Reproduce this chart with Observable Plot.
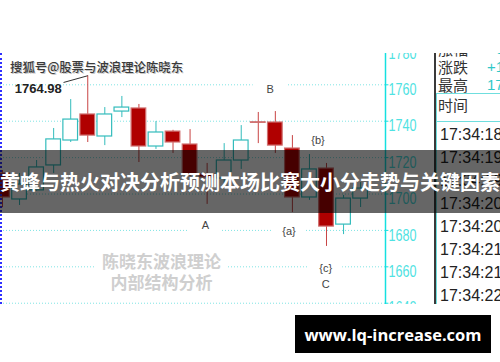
<!DOCTYPE html>
<html>
<head>
<meta charset="utf-8">
<script src="https://cdn.jsdelivr.net/npm/d3@7"></script>
<script src="https://cdn.jsdelivr.net/npm/@observablehq/plot@0.6"></script>
<style>
  html, body { margin: 0; padding: 0; background: #fff; }
  #stage { position: relative; width: 500px; height: 362px; overflow: hidden; background: #fff;
           font-family: "Noto Sans CJK SC", "Liberation Sans", sans-serif; }
  #chart { position: absolute; left: 0; top: 53px; width: 435px; height: 251px; overflow: hidden; }
  #chart svg { display: block; overflow: hidden; }
  #edge { position: absolute; left: 0; top: 53px; height: 251px; border-left: 2px dotted #2f2fff; }
  #source { position: absolute; left: 10px; top: 58px; font-size: 12.4px; line-height: 18px; color: #3a3a3a;
            font-weight: 500; white-space: nowrap; text-shadow: 1px 1px 0 #c8c8c8; }
  #mark { position: absolute; left: 95px; top: 248px; width: 133px; padding: 2px 0; background: #fff;
          text-align: center; color: #cfcfcf; font-weight: bold; font-size: 17px; line-height: 21px; }
  #panel { position: absolute; left: 434px; top: 53px; width: 66px; height: 251px; overflow: hidden; background: #fff;
           border-left: 2px solid #3a3a3a; }
  #panel .row { position: absolute; left: 2px; font-size: 15px; line-height: 18px; color: #333; white-space: nowrap; }
  #panel .val { position: absolute; left: 51px; font-size: 15px; line-height: 18px; color: #2ec8c8; white-space: nowrap;
                font-family: "Liberation Sans", sans-serif; }
  #panel .rule { position: absolute; left: 0; width: 66px; height: 0; border-top: 1.5px solid #6fdede; }
  #panel .time { position: absolute; left: 4px; font-size: 16px; line-height: 20px; color: #222; white-space: nowrap;
                 font-family: "Liberation Sans", sans-serif; }
  #panel .side { position: absolute; left: 0; top: 40px; bottom: 0; border-left: 1px solid #6fdede; }
  #banner { position: absolute; left: 0; top: 150px; width: 500px; height: 63px; background: rgba(0,0,0,0.6);
            display: flex; justify-content: center; align-items: center; overflow: hidden; }
  #banner span { color: #fff; font-weight: bold; font-size: 20px; white-space: nowrap; flex: none; }
  #site { position: absolute; left: 295px; top: 315px; width: 196px; height: 38px; background: #000;
          display: flex; justify-content: center; align-items: center; }
  #site span { color: #fff; font-weight: bold; font-size: 16.5px; font-family: "Open Sans", "DejaVu Sans", sans-serif; }
</style>
</head>
<body>
<div id="stage">
  <div id="chart"></div>
  <div id="edge"></div>
  <div id="mark"></div>
  <div id="source"></div>
  <div id="panel"></div>
  <div id="banner"><span></span></div>
  <div id="site"><span></span></div>
</div>
<script>
// One candle per trade tick, left to right
const opens  = [1711.3, 1697.0, 1702.0, 1715.7, 1729.4, 1743.7, 1731.6, 1745.3, 1747.0, 1726.1, 1734.3,
                1727.2, 1710.7, 1708.5, 1718.4, 1739.4, 1739.3, 1725.0, 1698.1, 1714.0, 1683.2, 1697.5];
const closes = [1698.1, 1705.2, 1714.6, 1730.0, 1740.9, 1732.1, 1743.7, 1747.5, 1726.1, 1733.8, 1728.3,
                1710.7, 1709.1, 1718.4, 1729.4, 1739.1, 1726.6, 1698.1, 1713.5, 1682.1, 1697.5, 1703.0];
const highs  = [1712.9, 1711.3, 1718.4, 1736.0, 1751.9, 1764.98, 1747.5, 1753.6, 1749.2, 1739.8, 1735.0,
                1735.4, 1716.8, 1727.7, 1737.6, 1744.8, 1745.3, 1732.1, 1721.7, 1716.8, 1699.2, 1706.3];
const lows   = [1692.5, 1693.7, 1701.5, 1711.3, 1728.3, 1728.3, 1726.6, 1742.0, 1717.3, 1724.5, 1722.3,
                1709.5, 1694.3, 1706.0, 1713.5, 1727.7, 1722.3, 1689.8, 1696.5, 1671.2, 1677.7, 1692.6];

// Price axis ticks
const yTicks = [1640, 1660, 1680, 1700, 1720, 1740, 1760, 1780];

// Wave count annotations (candle position, price)
const waveNames = ["B", "{b}", "A", "{a}", "{c}", "C"];
const waveX     = [15.7, 18.5, 11.9, 16.8, 18.95, 18.95];
const waveY     = [1757.4, 1729.3, 1682.7, 1679.4, 1659.1, 1650.3];

// Quote panel
const quoteNames  = ["涨幅", "涨跌", "最高"];
const quoteValues = ["+0.78%", "+13.62", "1764.98"];
const tickTimes   = ["17:34:18", "17:34:19", "17:34:19", "17:34:20", "17:34:20", "17:34:21", "17:34:21", "17:34:22"];

// Captions
const sourceText = "搜狐号@股票与波浪理论陈晓东";
const markLines  = ["陈晓东波浪理论", "内部结构分析"];
const titleText  = "黄蜂与热火对决分析预测本场比赛大小分走势与关键因素";
const siteText   = "www.lq-increase.com";

const candles = opens.map((o, i) => ({
  i, open: o, close: closes[i], high: highs[i], low: lows[i], up: closes[i] >= o
}));
const waves = waveNames.map((name, k) => ({ name, x: waveX[k], y: waveY[k] }));
const peak = candles.reduce((a, b) => (b.high > a.high ? b : a));

const xMin = -0.117, xMax = 22.46;
const TEAL = "#33bcbc", RED = "#b00000", RED_WICK = "#c84444", RED_EDGE = "#d07070", CYAN = "#14e0e0";

const chart = Plot.plot({
  width: 435, height: 251,
  marginTop: 0, marginBottom: 0, marginLeft: 0, marginRight: 50,
  x: { type: "linear", domain: [xMin, xMax], axis: null },
  y: { type: "linear", domain: [1639.3, 1777.2], axis: null },
  color: { type: "identity" },
  style: { background: "transparent", overflow: "hidden" },
  marks: [
    // dotted price grid
    Plot.ruleY(yTicks, { stroke: "#7fe4e4", strokeDasharray: "1,2", strokeWidth: 1 }),
    // white boxes under the wave labels
    Plot.rect(waves, { x1: d => d.x - 1.0, x2: d => d.x + 1.0, y1: d => d.y - 5.5, y2: d => d.y + 5.5, fill: "white" }),
    // wicks
    Plot.ruleX(candles, { x: "i", y1: "low", y2: "high", stroke: d => (d.up ? TEAL : RED_WICK), strokeWidth: 1 }),
    // bodies: hollow when rising, filled when falling
    Plot.rect(candles, {
      x1: d => d.i - 0.43, x2: d => d.i + 0.43, y1: "open", y2: "close",
      fill: d => (d.up ? "white" : RED), stroke: d => (d.up ? TEAL : RED_EDGE), strokeWidth: 1.2
    }),
    // wave labels
    Plot.text(waves, { x: "x", y: "y", text: "name", fontSize: 11, fill: "#444", fontFamily: "Liberation Sans, sans-serif" }),
    // session high callout
    Plot.link([peak], { x1: "i", y1: "high", x2: d => d.i - 1.42, y2: d => d.high - 3.7, stroke: "#333", strokeWidth: 1 }),
    Plot.text([peak], {
      x: "i", y: "high", text: d => d.high.toFixed(2), dx: -26, dy: 13, textAnchor: "end",
      fontSize: 13, fontWeight: "bold", fill: "#222", fontFamily: "Liberation Sans, sans-serif"
    }),
    // right price axis
    Plot.ruleX([xMax], { stroke: CYAN, strokeWidth: 1.5 }),
    Plot.ruleY(yTicks, { x1: xMax, x2: xMax + 0.2, stroke: CYAN }),
    Plot.text(yTicks, {
      x: () => xMax, y: d => d, text: d => String(d), dx: 3, dy: 5, textAnchor: "start",
      fill: "#4fe2e2", fontSize: 16, fontFamily: "Liberation Sans, sans-serif"
    })
  ]
});
// the price labels use a condensed face: squeeze each to the label width
const tickStrings = yTicks.map(String);
chart.querySelectorAll("text").forEach(t => {
  if (tickStrings.includes(t.textContent)) {
    t.setAttribute("textLength", 28);
    t.setAttribute("lengthAdjust", "spacingAndGlyphs");
  }
});
document.getElementById("chart").appendChild(chart);

// captions
document.getElementById("source").textContent = sourceText;
document.getElementById("mark").innerHTML = markLines.map(t => `<div>${t}</div>`).join("");
document.querySelector("#banner span").textContent = titleText;
document.querySelector("#site span").textContent = siteText;

// quote panel
const panel = document.getElementById("panel");
let html = "";
quoteNames.forEach((name, k) => {
  const top = -13 + k * 18;
  html += `<div class="row" style="top:${top}px">${name}</div>`;
  html += `<div class="val" style="top:${top}px">${quoteValues[k]}</div>`;
});
html += `<div class="rule" style="top:40px"></div>`;
html += `<div class="side"></div>`;
html += `<div class="row" style="top:43px">时间</div>`;
html += `<div class="rule" style="top:68px"></div>`;
tickTimes.forEach((t, k) => {
  html += `<div class="time" style="top:${72 + k * 23}px">${t}</div>`;
});
panel.innerHTML = html;
</script>
</body>
</html>
